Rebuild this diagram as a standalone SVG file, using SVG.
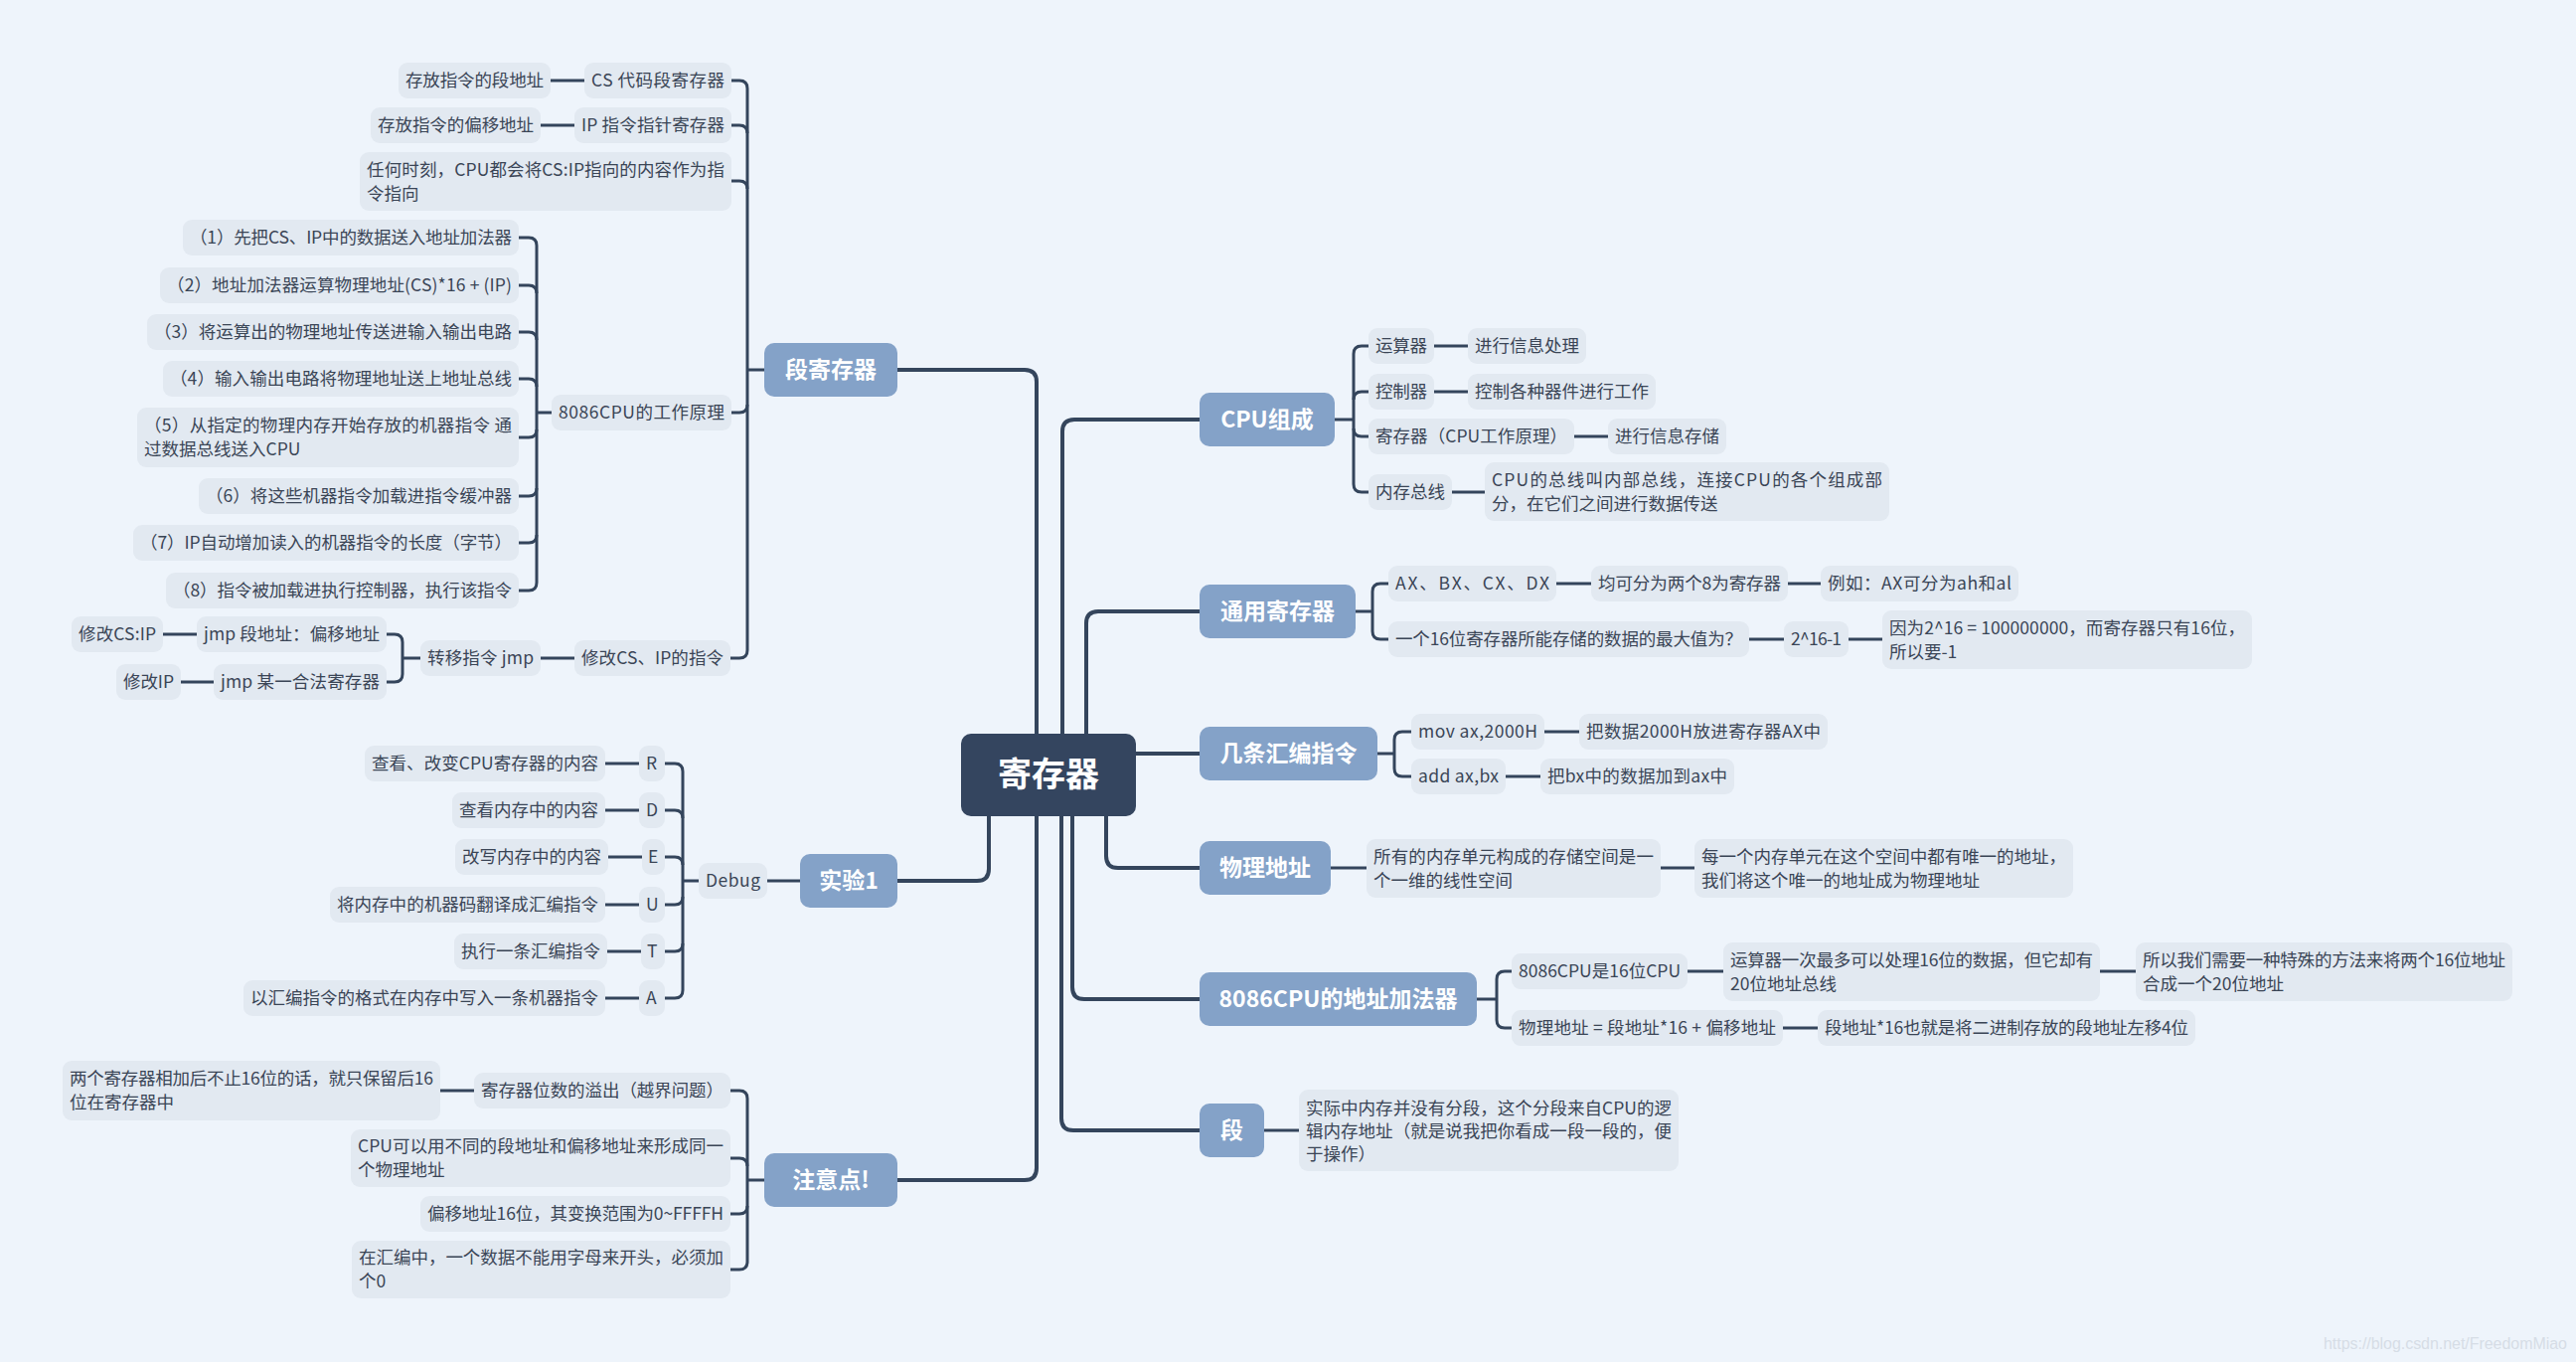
<svg xmlns="http://www.w3.org/2000/svg" width="2592" height="1370" viewBox="0 0 2592 1370">
<style>
.bg{fill:#EEF4FB}
.ln{fill:none;stroke:#34455C;stroke-width:3}
.mln{fill:none;stroke:#34455C;stroke-width:4}
.s rect{fill:#E2E9F1}
.s text{font-family:"Noto Sans CJK SC","Noto Sans",sans-serif;font-size:17.5px;fill:#3A4556}
.m rect{fill:#84A2C8}
.m text{font-family:"Noto Sans CJK SC","Noto Sans",sans-serif;font-size:23px;font-weight:bold;fill:#FFFFFF;text-anchor:middle}
.r rect{fill:#34455F}
.r text{font-family:"Noto Sans CJK SC","Noto Sans",sans-serif;font-size:34px;font-weight:bold;fill:#FFFFFF;text-anchor:middle}
.wm{font-family:"Liberation Sans",sans-serif;font-size:16px;fill:#D6DDE6}
</style>
<rect class="bg" x="0" y="0" width="2592" height="1370"/>
<g id="connectors">
<path class="mln" d="M903 372H1031Q1043 372 1043 384V738"/>
<path class="mln" d="M903 886H983Q995 886 995 874V821"/>
<path class="mln" d="M903 1187H1031Q1043 1187 1043 1175V821"/>
<path class="mln" d="M1207 422H1081Q1069 422 1069 434V738"/>
<path class="mln" d="M1207 615H1105Q1093 615 1093 627V738"/>
<path class="mln" d="M1143 758H1207"/>
<path class="mln" d="M1113 821V861Q1113 873 1125 873H1207"/>
<path class="mln" d="M1079 821V993Q1079 1005 1091 1005H1207"/>
<path class="mln" d="M1068 821V1125Q1068 1137 1080 1137H1207"/>
<path class="ln" d="M769 372H752"/>
<path class="ln" d="M736 81H744Q752 81 752 89V654Q752 662 744 662H735"/>
<path class="ln" d="M736 126H744Q752 126 752 134"/>
<path class="ln" d="M736 182H744Q752 182 752 190"/>
<path class="ln" d="M736 415H744Q752 415 752 407"/>
<path class="ln" d="M554 81H588"/>
<path class="ln" d="M544 126H578"/>
<path class="ln" d="M555 415H540"/>
<path class="ln" d="M522 239H532Q540 239 540 247V586Q540 594 532 594H522"/>
<path class="ln" d="M522 287H532Q540 287 540 295"/>
<path class="ln" d="M522 334H532Q540 334 540 342"/>
<path class="ln" d="M522 381H532Q540 381 540 389"/>
<path class="ln" d="M522 440H532Q540 440 540 432"/>
<path class="ln" d="M522 499H532Q540 499 540 491"/>
<path class="ln" d="M522 546H532Q540 546 540 538"/>
<path class="ln" d="M544 662H578"/>
<path class="ln" d="M423 662H405"/>
<path class="ln" d="M389 638H397Q405 638 405 646V678Q405 686 397 686H389"/>
<path class="ln" d="M164 638H198"/>
<path class="ln" d="M182 686H215"/>
<path class="ln" d="M805 886H772"/>
<path class="ln" d="M703 886H687"/>
<path class="ln" d="M669 768H679Q687 768 687 776V996Q687 1004 679 1004H669"/>
<path class="ln" d="M669 815H679Q687 815 687 823"/>
<path class="ln" d="M669 862H679Q687 862 687 870"/>
<path class="ln" d="M669 910H679Q687 910 687 902"/>
<path class="ln" d="M669 957H679Q687 957 687 949"/>
<path class="ln" d="M609 768H643"/>
<path class="ln" d="M609 815H643"/>
<path class="ln" d="M612 862H646"/>
<path class="ln" d="M609 910H643"/>
<path class="ln" d="M611 957H645"/>
<path class="ln" d="M609 1004H643"/>
<path class="ln" d="M769 1187H752"/>
<path class="ln" d="M735 1097H744Q752 1097 752 1105V1269Q752 1277 744 1277H735"/>
<path class="ln" d="M735 1165H744Q752 1165 752 1173"/>
<path class="ln" d="M735 1221H744Q752 1221 752 1213"/>
<path class="ln" d="M443 1097H477"/>
<path class="ln" d="M1343 422H1362"/>
<path class="ln" d="M1377 348H1370Q1362 348 1362 356V487Q1362 495 1370 495H1377"/>
<path class="ln" d="M1377 394H1370Q1362 394 1362 402"/>
<path class="ln" d="M1377 439H1370Q1362 439 1362 431"/>
<path class="ln" d="M1443 348H1477"/>
<path class="ln" d="M1443 394H1477"/>
<path class="ln" d="M1584 439H1618"/>
<path class="ln" d="M1461 495H1494"/>
<path class="ln" d="M1364 615H1381"/>
<path class="ln" d="M1397 587H1389Q1381 587 1381 595V635Q1381 643 1389 643H1397"/>
<path class="ln" d="M1566 587H1601"/>
<path class="ln" d="M1799 587H1832"/>
<path class="ln" d="M1760 643H1795"/>
<path class="ln" d="M1860 643H1894"/>
<path class="ln" d="M1386 758H1403"/>
<path class="ln" d="M1420 736H1411Q1403 736 1403 744V773Q1403 781 1411 781H1420"/>
<path class="ln" d="M1554 736H1589"/>
<path class="ln" d="M1515 781H1550"/>
<path class="ln" d="M1339 873H1375"/>
<path class="ln" d="M1671 873H1705"/>
<path class="ln" d="M1486 1005H1506"/>
<path class="ln" d="M1521 977H1514Q1506 977 1506 985V1026Q1506 1034 1514 1034H1521"/>
<path class="ln" d="M1698 977H1734"/>
<path class="ln" d="M2113 977H2149"/>
<path class="ln" d="M1794 1034H1829"/>
<path class="ln" d="M1272 1137H1307"/>
</g>
<g id="root" class="r"><rect x="967" y="738" width="176" height="83" rx="10"/><text x="1055" y="791">寄存器</text></g>
<g id="b_duan" class="m"><rect x="769" y="345" width="134" height="54" rx="10"/><text x="836" y="380">段寄存器</text></g>
<g id="b_shiyan" class="m"><rect x="805" y="859" width="98" height="54" rx="10"/><text x="854" y="894">实验1</text></g>
<g id="b_zhuyi" class="m"><rect x="769" y="1160" width="134" height="54" rx="10"/><text x="836" y="1195">注意点!</text></g>
<g id="b_cpu" class="m"><rect x="1207" y="395" width="136" height="54" rx="10"/><text x="1275" y="430">CPU组成</text></g>
<g id="b_tongyong" class="m"><rect x="1207" y="588" width="157" height="54" rx="10"/><text x="1285.5" y="623">通用寄存器</text></g>
<g id="b_huibian" class="m"><rect x="1207" y="731" width="179" height="54" rx="10"/><text x="1296.5" y="766">几条汇编指令</text></g>
<g id="b_wuli" class="m"><rect x="1207" y="846" width="132" height="54" rx="10"/><text x="1273" y="881">物理地址</text></g>
<g id="b_8086" class="m"><rect x="1207" y="978" width="279" height="54" rx="10"/><text x="1346.5" y="1013">8086CPU的地址加法器</text></g>
<g id="b_duan2" class="m"><rect x="1207" y="1110" width="65" height="54" rx="10"/><text x="1239.5" y="1145">段</text></g>
<g id="n_cs" class="s"><rect x="588" y="63" width="148" height="36" rx="9"/><text x="595" y="87" textLength="134">CS 代码段寄存器</text></g>
<g id="n_cs_d" class="s"><rect x="401" y="63" width="153" height="36" rx="9"/><text x="408" y="87" textLength="139">存放指令的段地址</text></g>
<g id="n_ip" class="s"><rect x="578" y="108" width="158" height="36" rx="9"/><text x="585" y="132" textLength="144">IP 指令指针寄存器</text></g>
<g id="n_ip_d" class="s"><rect x="373" y="108" width="171" height="36" rx="9"/><text x="380" y="132" textLength="157">存放指令的偏移地址</text></g>
<g id="n_any" class="s"><rect x="362" y="153" width="374" height="59" rx="9"/><text x="369" y="177" textLength="360">任何时刻，CPU都会将CS:IP指向的内容作为指</text><text x="369" y="201">令指向</text></g>
<g id="n_8086p" class="s"><rect x="555" y="397" width="181" height="36" rx="9"/><text x="562" y="421" textLength="167">8086CPU的工作原理</text></g>
<g id="s1" class="s"><rect x="184" y="221" width="338" height="36" rx="9"/><text x="191" y="245" textLength="324">（1）先把CS、IP中的数据送入地址加法器</text></g>
<g id="s2" class="s"><rect x="161" y="269" width="361" height="36" rx="9"/><text x="168" y="293" textLength="347">（2）地址加法器运算物理地址(CS)*16 + (IP)</text></g>
<g id="s3" class="s"><rect x="148" y="316" width="374" height="36" rx="9"/><text x="155" y="340" textLength="360">（3）将运算出的物理地址传送进输入输出电路</text></g>
<g id="s4" class="s"><rect x="164" y="363" width="358" height="36" rx="9"/><text x="171" y="387" textLength="344">（4）输入输出电路将物理地址送上地址总线</text></g>
<g id="s5" class="s"><rect x="138" y="410" width="384" height="60" rx="9"/><text x="145" y="434" textLength="370">（5）从指定的物理内存开始存放的机器指令 通</text><text x="145" y="458">过数据总线送入CPU</text></g>
<g id="s6" class="s"><rect x="200" y="481" width="322" height="36" rx="9"/><text x="207" y="505" textLength="308">（6）将这些机器指令加载进指令缓冲器</text></g>
<g id="s7" class="s"><rect x="134" y="528" width="388" height="36" rx="9"/><text x="141" y="552" textLength="374">（7）IP自动增加读入的机器指令的长度（字节）</text></g>
<g id="s8" class="s"><rect x="167" y="576" width="355" height="36" rx="9"/><text x="174" y="600" textLength="341">（8）指令被加载进执行控制器，执行该指令</text></g>
<g id="n_mod" class="s"><rect x="578" y="644" width="157" height="36" rx="9"/><text x="585" y="668" textLength="143">修改CS、IP的指令</text></g>
<g id="n_jmp" class="s"><rect x="423" y="644" width="121" height="36" rx="9"/><text x="430" y="668" textLength="107">转移指令 jmp</text></g>
<g id="j1" class="s"><rect x="198" y="620" width="191" height="36" rx="9"/><text x="205" y="644" textLength="177">jmp 段地址：偏移地址</text></g>
<g id="j1d" class="s"><rect x="72" y="620" width="92" height="36" rx="9"/><text x="79" y="644" textLength="78">修改CS:IP</text></g>
<g id="j2" class="s"><rect x="215" y="668" width="174" height="36" rx="9"/><text x="222" y="692" textLength="160">jmp 某一合法寄存器</text></g>
<g id="j2d" class="s"><rect x="117" y="668" width="65" height="36" rx="9"/><text x="124" y="692" textLength="51">修改IP</text></g>
<g id="n_debug" class="s"><rect x="703" y="868" width="69" height="36" rx="9"/><text x="710" y="892" textLength="55">Debug</text></g>
<g id="k_r" class="s"><rect x="643" y="750" width="26" height="36" rx="9"/><text x="650" y="774">R</text></g>
<g id="k_r_d" class="s"><rect x="367" y="750" width="242" height="36" rx="9"/><text x="374" y="774" textLength="228">查看、改变CPU寄存器的内容</text></g>
<g id="k_d" class="s"><rect x="643" y="797" width="26" height="36" rx="9"/><text x="650" y="821">D</text></g>
<g id="k_d_d" class="s"><rect x="455" y="797" width="154" height="36" rx="9"/><text x="462" y="821" textLength="140">查看内存中的内容</text></g>
<g id="k_e" class="s"><rect x="646" y="844" width="23" height="36" rx="9"/><text x="652" y="868">E</text></g>
<g id="k_e_d" class="s"><rect x="458" y="844" width="154" height="36" rx="9"/><text x="465" y="868" textLength="140">改写内存中的内容</text></g>
<g id="k_u" class="s"><rect x="643" y="892" width="26" height="36" rx="9"/><text x="650" y="916">U</text></g>
<g id="k_u_d" class="s"><rect x="332" y="892" width="277" height="36" rx="9"/><text x="339" y="916" textLength="263">将内存中的机器码翻译成汇编指令</text></g>
<g id="k_t" class="s"><rect x="645" y="939" width="24" height="36" rx="9"/><text x="651" y="963">T</text></g>
<g id="k_t_d" class="s"><rect x="457" y="939" width="154" height="36" rx="9"/><text x="464" y="963" textLength="140">执行一条汇编指令</text></g>
<g id="k_a" class="s"><rect x="643" y="986" width="26" height="36" rx="9"/><text x="650" y="1010">A</text></g>
<g id="k_a_d" class="s"><rect x="245" y="986" width="364" height="36" rx="9"/><text x="252" y="1010" textLength="350">以汇编指令的格式在内存中写入一条机器指令</text></g>
<g id="z1" class="s"><rect x="477" y="1079" width="258" height="36" rx="9"/><text x="484" y="1103" textLength="244">寄存器位数的溢出（越界问题）</text></g>
<g id="z1d" class="s"><rect x="63" y="1067" width="380" height="60" rx="9"/><text x="70" y="1091" textLength="366">两个寄存器相加后不止16位的话，就只保留后16</text><text x="70" y="1115">位在寄存器中</text></g>
<g id="z2" class="s"><rect x="353" y="1136" width="382" height="58" rx="9"/><text x="360" y="1159" textLength="368">CPU可以用不同的段地址和偏移地址来形成同一</text><text x="360" y="1183">个物理地址</text></g>
<g id="z3" class="s"><rect x="423" y="1203" width="312" height="36" rx="9"/><text x="430" y="1227" textLength="298">偏移地址16位，其变换范围为0~FFFFH</text></g>
<g id="z4" class="s"><rect x="354" y="1248" width="381" height="58" rx="9"/><text x="361" y="1271" textLength="367">在汇编中，一个数据不能用字母来开头，必须加</text><text x="361" y="1295">个0</text></g>
<g id="c1" class="s"><rect x="1377" y="330" width="66" height="36" rx="9"/><text x="1384" y="354" textLength="52">运算器</text></g>
<g id="c1d" class="s"><rect x="1477" y="330" width="119" height="36" rx="9"/><text x="1484" y="354" textLength="105">进行信息处理</text></g>
<g id="c2" class="s"><rect x="1377" y="376" width="66" height="36" rx="9"/><text x="1384" y="400" textLength="52">控制器</text></g>
<g id="c2d" class="s"><rect x="1477" y="376" width="189" height="36" rx="9"/><text x="1484" y="400" textLength="175">控制各种器件进行工作</text></g>
<g id="c3" class="s"><rect x="1377" y="421" width="207" height="36" rx="9"/><text x="1384" y="445" textLength="193">寄存器（CPU工作原理）</text></g>
<g id="c3d" class="s"><rect x="1618" y="421" width="119" height="36" rx="9"/><text x="1625" y="445" textLength="105">进行信息存储</text></g>
<g id="c4" class="s"><rect x="1377" y="477" width="84" height="36" rx="9"/><text x="1384" y="501" textLength="70">内存总线</text></g>
<g id="c4d" class="s"><rect x="1494" y="465" width="407" height="59" rx="9"/><text x="1501" y="489" textLength="393">CPU的总线叫内部总线，连接CPU的各个组成部</text><text x="1501" y="513">分，在它们之间进行数据传送</text></g>
<g id="t1" class="s"><rect x="1397" y="569" width="169" height="36" rx="9"/><text x="1404" y="593" textLength="155">AX、BX、CX、DX</text></g>
<g id="t1a" class="s"><rect x="1601" y="569" width="198" height="36" rx="9"/><text x="1608" y="593" textLength="184">均可分为两个8为寄存器</text></g>
<g id="t1b" class="s"><rect x="1832" y="569" width="199" height="36" rx="9"/><text x="1839" y="593" textLength="185">例如：AX可分为ah和al</text></g>
<g id="t2" class="s"><rect x="1397" y="625" width="363" height="36" rx="9"/><text x="1404" y="649" textLength="349">一个16位寄存器所能存储的数据的最大值为？</text></g>
<g id="t2a" class="s"><rect x="1795" y="625" width="65" height="36" rx="9"/><text x="1802" y="649" textLength="51">2^16-1</text></g>
<g id="t2b" class="s"><rect x="1894" y="614" width="372" height="59" rx="9"/><text x="1901" y="638" textLength="358">因为2^16 = 100000000，而寄存器只有16位，</text><text x="1901" y="662">所以要-1</text></g>
<g id="h1" class="s"><rect x="1420" y="718" width="134" height="36" rx="9"/><text x="1427" y="742" textLength="120">mov ax,2000H</text></g>
<g id="h1d" class="s"><rect x="1589" y="718" width="250" height="36" rx="9"/><text x="1596" y="742" textLength="236">把数据2000H放进寄存器AX中</text></g>
<g id="h2" class="s"><rect x="1420" y="763" width="95" height="36" rx="9"/><text x="1427" y="787" textLength="81">add ax,bx</text></g>
<g id="h2d" class="s"><rect x="1550" y="763" width="195" height="36" rx="9"/><text x="1557" y="787" textLength="181">把bx中的数据加到ax中</text></g>
<g id="w1" class="s"><rect x="1375" y="844" width="296" height="59" rx="9"/><text x="1382" y="868" textLength="282">所有的内存单元构成的存储空间是一</text><text x="1382" y="892">个一维的线性空间</text></g>
<g id="w1d" class="s"><rect x="1705" y="844" width="381" height="59" rx="9"/><text x="1712" y="868" textLength="367">每一个内存单元在这个空间中都有唯一的地址，</text><text x="1712" y="892">我们将这个唯一的地址成为物理地址</text></g>
<g id="a1" class="s"><rect x="1521" y="959" width="177" height="36" rx="9"/><text x="1528" y="983" textLength="163">8086CPU是16位CPU</text></g>
<g id="a1d" class="s"><rect x="1734" y="948" width="379" height="59" rx="9"/><text x="1741" y="972" textLength="365">运算器一次最多可以处理16位的数据，但它却有</text><text x="1741" y="996">20位地址总线</text></g>
<g id="a1e" class="s"><rect x="2149" y="948" width="379" height="59" rx="9"/><text x="2156" y="972" textLength="365">所以我们需要一种特殊的方法来将两个16位地址</text><text x="2156" y="996">合成一个20位地址</text></g>
<g id="a2" class="s"><rect x="1521" y="1016" width="273" height="36" rx="9"/><text x="1528" y="1040" textLength="259">物理地址 = 段地址*16 + 偏移地址</text></g>
<g id="a2d" class="s"><rect x="1829" y="1016" width="380" height="36" rx="9"/><text x="1836" y="1040" textLength="366">段地址*16也就是将二进制存放的段地址左移4位</text></g>
<g id="d1" class="s"><rect x="1307" y="1096" width="382" height="82" rx="9"/><text x="1314" y="1121" textLength="368">实际中内存并没有分段，这个分段来自CPU的逻</text><text x="1314" y="1144" textLength="368">辑内存地址（就是说我把你看成一段一段的，便</text><text x="1314" y="1167">于操作）</text></g>
<text class="wm" x="2338" y="1357" textLength="245">https://blog.csdn.net/FreedomMiao</text>
</svg>
